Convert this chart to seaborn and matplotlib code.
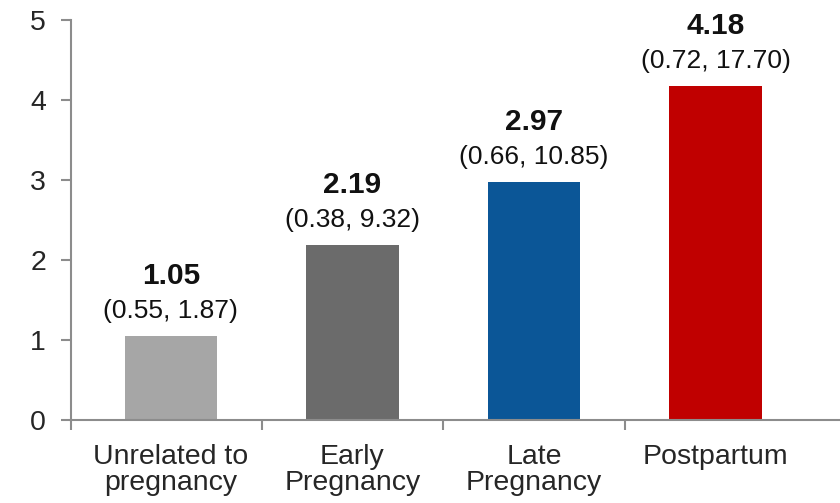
import matplotlib
matplotlib.use("Agg")
import matplotlib.pyplot as plt
import seaborn as sns
import pandas as pd

categories = ["Unrelated to\npregnancy", "Early\nPregnancy", "Late\nPregnancy", "Postpartum"]
estimates = [1.05, 2.19, 2.97, 4.18]
ci_low = [0.55, 0.38, 0.66, 0.72]
ci_high = [1.87, 9.32, 10.85, 17.70]
bar_colors = ["#A6A6A6", "#6B6B6B", "#0B5697", "#C00000"]
y_ticks = [0, 1, 2, 3, 4, 5]

sns.set_theme(style="white")
plt.rcParams["font.family"] = ["Liberation Sans", "DejaVu Sans"]

df = pd.DataFrame({"period": categories, "estimate": estimates})

fig = plt.figure(figsize=(8.4, 5.03), dpi=100)
ax = fig.add_axes([71 / 840, 83 / 503, 769 / 840, 400 / 503])

sns.barplot(data=df, x="period", y="estimate", hue="period",
            palette=bar_colors, legend=False, width=0.51,
            saturation=1, linewidth=0, ax=ax)

ax.set_ylim(0, 5)
ax.set_xlim(-0.55, 3.686)
ax.set_yticks(y_ticks)
ax.set_yticklabels([str(t) for t in y_ticks], fontsize=20.5)
ax.set_xlabel("")
ax.set_ylabel("")

# category labels centred under bars, tick marks between categories
ax.set_xticks(range(len(categories)))
ax.set_xticklabels(categories, fontsize=20.5, linespacing=1.0)
ax.tick_params(axis="x", which="major", length=0, pad=17)
ax.set_xticks([-0.55, 0.5, 1.5, 2.5], minor=True)
ax.tick_params(axis="x", which="minor", length=7, width=1.5,
               color="#8C8C8C", direction="out", bottom=True)
ax.tick_params(axis="y", length=7, width=1.5, color="#8C8C8C",
               direction="out", left=True, pad=11)

for side in ["top", "right"]:
    ax.spines[side].set_visible(False)
for side in ["left", "bottom"]:
    ax.spines[side].set_color("#8C8C8C")
    ax.spines[side].set_linewidth(1.5)

for i, (est, lo, hi) in enumerate(zip(estimates, ci_low, ci_high)):
    ax.annotate(f"({lo:.2f}, {hi:.2f})", xy=(i, est), xytext=(0, 18),
                textcoords="offset pixels", ha="center", va="baseline",
                fontsize=19, color="#111111")
    ax.annotate(f"{est:.2f}", xy=(i, est), xytext=(0, 52),
                textcoords="offset pixels", ha="center", va="baseline",
                fontsize=21.5, fontweight="bold", color="#111111")

fig.savefig("out.png", dpi=100)
